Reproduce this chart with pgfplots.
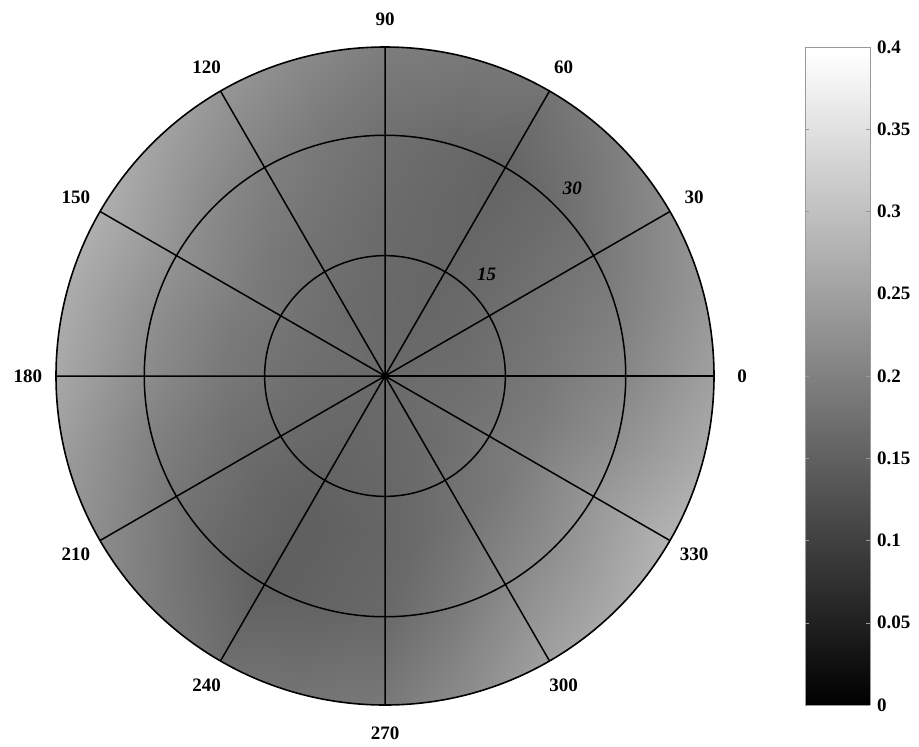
\documentclass[border=0pt]{standalone}
\usepackage{fontspec}
\setmainfont{Liberation Serif}
\usepackage{pgfplots}
\pgfplotsset{compat=1.18}
\usepackage{pgfplotstable}
\usepgfplotslibrary{polar}

% angle (deg), radius, value
\pgfplotstableread[row sep=\\]{
a r v\\
0 0 0.1663\\ 15 0 0.1663\\ 30 0 0.1663\\ 45 0 0.1663\\ 60 0 0.1663\\ 75 0 0.1663\\ 90 0 0.1663\\ 105 0 0.1663\\ 120 0 0.1663\\ 135 0 0.1663\\ 150 0 0.1663\\ 165 0 0.1663\\ 180 0 0.1663\\ 195 0 0.1663\\ 210 0 0.1663\\ 225 0 0.1663\\ 240 0 0.1663\\ 255 0 0.1663\\ 270 0 0.1663\\ 285 0 0.1663\\ 300 0 0.1663\\ 315 0 0.1663\\ 330 0 0.1663\\ 345 0 0.1663\\ 360 0 0.1663\\
0 10 0.1725\\ 15 10 0.1694\\ 30 10 0.1663\\ 45 10 0.1631\\ 60 10 0.1616\\ 75 10 0.1631\\ 90 10 0.1647\\ 105 10 0.1678\\ 120 10 0.1694\\ 135 10 0.1725\\ 150 10 0.1741\\ 165 10 0.1741\\ 180 10 0.1725\\ 195 10 0.1694\\ 210 10 0.1663\\ 225 10 0.1631\\ 240 10 0.1600\\ 255 10 0.1616\\ 270 10 0.1631\\ 285 10 0.1663\\ 300 10 0.1694\\ 315 10 0.1725\\ 330 10 0.1757\\ 345 10 0.1741\\ 360 10 0.1725\\
0 20 0.1882\\ 15 20 0.1820\\ 30 20 0.1757\\ 45 20 0.1663\\ 60 20 0.1600\\ 75 20 0.1631\\ 90 20 0.1678\\ 105 20 0.1757\\ 120 20 0.1820\\ 135 20 0.1882\\ 150 20 0.1945\\ 165 20 0.1914\\ 180 20 0.1882\\ 195 20 0.1788\\ 210 20 0.1694\\ 225 20 0.1584\\ 240 20 0.1506\\ 255 20 0.1537\\ 270 20 0.1584\\ 285 20 0.1694\\ 300 20 0.1820\\ 315 20 0.1898\\ 330 20 0.1961\\ 345 20 0.1929\\ 360 20 0.1882\\
0 30 0.2118\\ 15 30 0.1992\\ 30 30 0.1851\\ 45 30 0.1694\\ 60 30 0.1569\\ 75 30 0.1663\\ 90 30 0.1757\\ 105 30 0.1882\\ 120 30 0.2008\\ 135 30 0.2149\\ 150 30 0.2275\\ 165 30 0.2243\\ 180 30 0.2196\\ 195 30 0.2024\\ 210 30 0.1851\\ 225 30 0.1663\\ 240 30 0.1490\\ 255 30 0.1569\\ 270 30 0.1647\\ 285 30 0.1882\\ 300 30 0.2118\\ 315 30 0.2243\\ 330 30 0.2353\\ 345 30 0.2243\\ 360 30 0.2118\\
0 43 0.2588\\ 15 43 0.2416\\ 30 43 0.2259\\ 45 43 0.2039\\ 60 43 0.1851\\ 75 43 0.1929\\ 90 43 0.1992\\ 105 43 0.2212\\ 120 43 0.2416\\ 135 43 0.2635\\ 150 43 0.2824\\ 165 43 0.2776\\ 180 43 0.2714\\ 195 43 0.2494\\ 210 43 0.2259\\ 225 43 0.2008\\ 240 43 0.1773\\ 255 43 0.1851\\ 270 43 0.1929\\ 285 43 0.2259\\ 300 43 0.2588\\ 315 43 0.2745\\ 330 43 0.2902\\ 345 43 0.2745\\ 360 43 0.2588\\
}\field

\begin{document}
\begin{tikzpicture}
\begin{polaraxis}[
  scale only axis, width=329pt, height=329pt,
  xmin=0, xmax=360, ymin=0, ymax=41,
  xtick={0,30,...,330},
  xticklabels={0,30,60,90,120,150,180,210,240,270,300,330},
  ytick={15,30}, yticklabels={},
  grid=major, major grid style={black, line width=0.75pt},
  axis line style={black, line width=0.8pt},
  major tick length=0pt,
  axis on top,
  xticklabel style={font=\fontsize{9.5}{11}\selectfont\bfseries, anchor=center, inner sep=0pt, shift={(\tick:14pt)}},
  colormap/blackwhite, point meta min=0, point meta max=0.4,
  colorbar sampled,
  colorbar style={
    samples=200,
    width=32.5pt,
    at={(parent axis.north east)}, anchor=north west, xshift=37pt,
    ytick={0,0.05,0.1,0.15,0.2,0.25,0.3,0.35,0.4},
    yticklabels={0,0.05,0.1,0.15,0.2,0.25,0.3,0.35,0.4},
    yticklabel style={font=\fontsize{9.5}{11}\selectfont\bfseries},
    axis line style={gray!80},
    ytick style={gray!80},
    major tick length=2pt,
  },
]
\addplot[surf, shader=interp, mesh/cols=25, mesh/rows=5, point meta=explicit]
  table[x=a, y=r, meta=v] {\field};
\coordinate (O) at (axis cs:0,0);
\node[font=\fontsize{9.5}{11}\selectfont\bfseries\itshape] at (axis cs:45,17.9) {15};
\node[font=\fontsize{9.5}{11}\selectfont\bfseries\itshape] at (axis cs:45,33.0) {30};
\end{polaraxis}
\pgfresetboundingbox
\path[use as bounding box] ([shift={(-192.5pt,-185pt)}]O) rectangle ([shift={(267pt,188pt)}]O);
\end{tikzpicture}
\end{document}
